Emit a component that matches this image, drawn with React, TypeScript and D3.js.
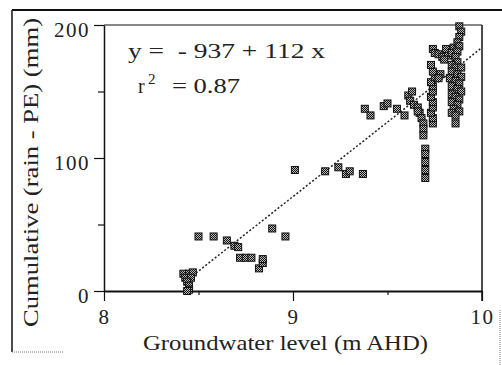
import React, { useEffect, useRef } from 'react'
import * as d3 from 'd3'

// readings: groundwater level (m AHD) vs cumulative (rain - PE) (mm)
const groundwater = [
  8.42, 8.45, 8.47, 8.43, 8.46, 8.44, 8.45, 8.45, 8.44,
  8.50, 8.58, 8.65, 8.69, 8.71, 8.72, 8.75, 8.78, 8.82, 8.84, 8.84, 8.89, 8.96,
  9.01, 9.17, 9.24, 9.28, 9.30, 9.37,
  9.38, 9.41, 9.48, 9.50, 9.55, 9.59, 9.61, 9.63, 9.62, 9.64, 9.66, 9.67,
  9.66, 9.68, 9.69, 9.69, 9.69, 9.70, 9.70, 9.70, 9.70, 9.70,
  9.74, 9.74, 9.73, 9.74, 9.74, 9.73, 9.74, 9.74, 9.73, 9.75, 9.74, 9.73, 9.78, 9.77,
  9.74, 9.75, 9.77, 9.79, 9.82, 9.81, 9.85, 9.84, 9.80,
  9.88, 9.89, 9.88, 9.87, 9.88, 9.87, 9.86, 9.87,
  9.84, 9.86, 9.89, 9.84, 9.87, 9.89, 9.83, 9.86, 9.88, 9.84, 9.87, 9.89, 9.84, 9.86,
  9.88, 9.84, 9.87, 9.85, 9.88, 9.84, 9.86, 9.86
]
const cumulative = [
  13, 13, 14, 10, 10, 7, 4, 1, 0,
  41, 41, 38, 34, 33, 25, 25, 25, 17, 21, 24, 47, 41,
  91, 90, 93, 88, 90, 88,
  137, 132, 139, 141, 137, 132, 147, 150, 143, 140, 138, 134,
  135, 130, 126, 122, 117, 107, 103, 97, 91, 85,
  126, 130, 134, 138, 142, 146, 150, 154, 157, 161, 165, 170, 163, 160,
  182, 179, 178, 176, 177, 182, 183, 179, 174,
  199, 195, 191, 187, 184, 180, 176, 172,
  170, 168, 168, 165, 163, 161, 160, 158, 156, 154, 152, 150, 148, 146,
  144, 142, 140, 137, 135, 134, 132, 126
]

const xTicks = [8, 9, 10]
const xMinor = [8.5, 9.5]
const yTicks = [0, 100, 200]
const yMinor = [50, 150]

// fitted line y = -937 + 112 x
const intercept = -937
const slope = 112
const fitFrom = 8.47

const font = '"Liberation Serif", "DejaVu Serif", serif'

export default function App () {
  const ref = useRef(null)

  useEffect(() => {
    const svg = d3.select(ref.current)
    svg.selectAll('*').remove()

    const x = d3.scaleLinear().domain([8, 10]).range([104, 482])
    const y = d3.scaleLinear().domain([0, 200]).range([291, 25])

    // dithered grey fill, like the scanned markers
    const pat = svg.append('defs').append('pattern')
      .attr('id', 'dither')
      .attr('width', 2)
      .attr('height', 2)
      .attr('patternUnits', 'userSpaceOnUse')
    pat.append('rect').attr('width', 2).attr('height', 2).attr('fill', '#bbb')
    pat.append('rect').attr('width', 1).attr('height', 1).attr('fill', '#111')
    pat.append('rect').attr('x', 1).attr('y', 1).attr('width', 1).attr('height', 1).attr('fill', '#111')

    // outer frame bits
    svg.append('line')
      .attr('x1', 12).attr('x2', 502).attr('y1', 10).attr('y2', 10)
      .attr('stroke', '#111').attr('stroke-width', 2)
    svg.append('line')
      .attr('x1', 12).attr('x2', 12).attr('y1', 10).attr('y2', 352)
      .attr('stroke', '#111').attr('stroke-width', 1.5)
    svg.append('line')
      .attr('x1', 12).attr('x2', 64).attr('y1', 352).attr('y2', 352)
      .attr('stroke', '#777').attr('stroke-dasharray', '1,1')
    svg.append('line')
      .attr('x1', 500).attr('x2', 500).attr('y1', 310).attr('y2', 365)
      .attr('stroke', '#777').attr('stroke-dasharray', '1,1')

    // top and right frame of the plot
    svg.append('line')
      .attr('x1', x(8)).attr('x2', x(10)).attr('y1', y(200)).attr('y2', y(200))
      .attr('stroke', '#111').attr('stroke-width', 1.2)
    svg.append('line')
      .attr('x1', x(10)).attr('x2', x(10)).attr('y1', y(200)).attr('y2', y(0) + 10)
      .attr('stroke', '#111').attr('stroke-width', 1.5)

    // axes
    const gx = svg.append('g')
      .attr('transform', 'translate(0,' + y(0) + ')')
      .call(d3.axisBottom(x).tickValues(xTicks).tickSize(10).tickSizeOuter(0).tickPadding(8).tickFormat(d3.format('d')))
    gx.select('.domain').attr('stroke-width', 2).attr('stroke', '#111')
    gx.append('g')
      .call(d3.axisBottom(x).tickValues(xMinor).tickSize(4).tickFormat(() => ''))
      .select('.domain').remove()

    const gy = svg.append('g')
      .attr('transform', 'translate(' + x(8) + ',0)')
      .call(d3.axisLeft(y).tickValues(yTicks).tickSize(10).tickSizeOuter(0).tickPadding(4).tickFormat(d3.format('d')))
    gy.select('.domain').attr('stroke-width', 1.5).attr('stroke', '#111')
    gy.append('g')
      .call(d3.axisLeft(y).tickValues(yMinor).tickSize(6).tickFormat(() => ''))
      .select('.domain').remove()
    gy.selectAll('.tick text').attr('dy', '0.55em')

    svg.selectAll('.tick line').attr('stroke', '#111').attr('stroke-width', 1.2)
    svg.selectAll('.tick text')
      .attr('font-family', font)
      .attr('font-size', 21)
      .attr('letter-spacing', 1.5)
      .attr('fill', '#222')

    // regression line
    const line = d3.line()
      .x((d) => x(d))
      .y((d) => y(intercept + slope * d))
    svg.append('path')
      .datum([fitFrom, 10])
      .attr('d', line)
      .attr('fill', 'none')
      .attr('stroke', '#222')
      .attr('stroke-width', 1.5)
      .attr('stroke-dasharray', '2,2')

    // points
    const s = 7
    svg.append('g')
      .selectAll('rect')
      .data(groundwater.map((g, i) => [g, cumulative[i]]))
      .enter()
      .append('rect')
      .attr('x', (d) => x(d[0]) - s / 2)
      .attr('y', (d) => y(d[1]) - s / 2)
      .attr('width', s)
      .attr('height', s)
      .attr('fill', 'url(#dither)')
      .attr('stroke', '#111')
      .attr('stroke-width', 1)

    // labels
    svg.append('text')
      .attr('x', 143).attr('y', 350)
      .attr('textLength', 285)
      .attr('lengthAdjust', 'spacingAndGlyphs')
      .attr('font-family', font).attr('font-size', 21).attr('fill', '#222')
      .text('Groundwater level (m AHD)')

    svg.append('text')
      .attr('transform', 'translate(38,327) rotate(-90)')
      .attr('textLength', 309)
      .attr('lengthAdjust', 'spacingAndGlyphs')
      .attr('font-family', font).attr('font-size', 21).attr('fill', '#222')
      .text('Cumulative (rain - PE) (mm)')

    // equation
    svg.append('text')
      .attr('x', 128).attr('y', 58)
      .attr('textLength', 197)
      .attr('lengthAdjust', 'spacingAndGlyphs')
      .attr('font-family', font).attr('font-size', 20).attr('fill', '#222')
      .style('white-space', 'pre')
      .text('y =  - 937 + 112 x')
    svg.append('text')
      .attr('x', 138).attr('y', 93)
      .attr('font-family', font).attr('font-size', 20).attr('fill', '#222')
      .text('r')
    svg.append('text')
      .attr('x', 148).attr('y', 84)
      .attr('font-family', font).attr('font-size', 15).attr('fill', '#222')
      .text('2')
    svg.append('text')
      .attr('x', 172).attr('y', 93)
      .attr('textLength', 68)
      .attr('lengthAdjust', 'spacingAndGlyphs')
      .attr('font-family', font).attr('font-size', 20).attr('fill', '#222')
      .style('white-space', 'pre')
      .text('= 0.87')
  }, [])

  return (
    <svg
      ref={ref}
      width={502}
      height={365}
      style={{ position: 'absolute', left: 0, top: 0, background: '#fff' }}
    />
  )
}
